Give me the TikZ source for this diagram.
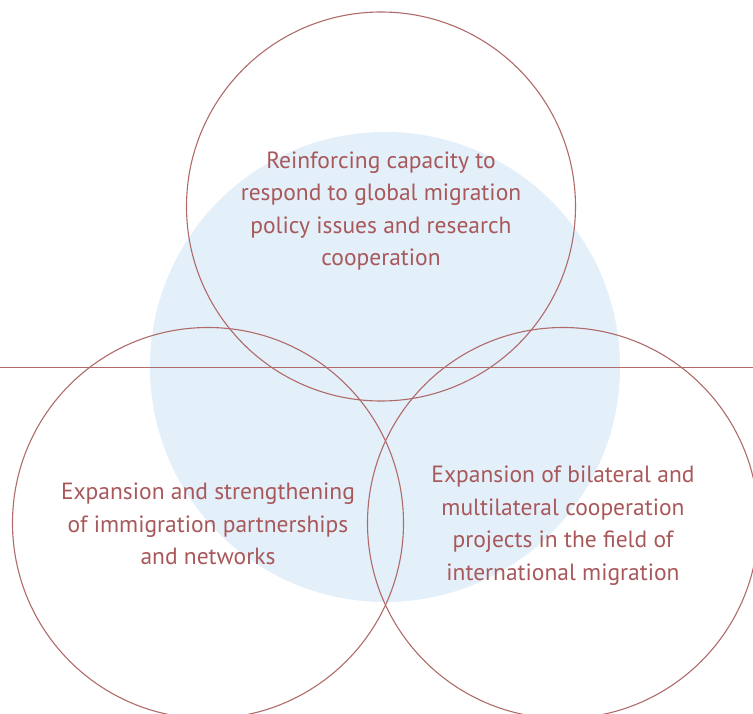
\documentclass[tikz,border=0pt]{standalone}
\usepackage{fontspec}
\setmainfont{PT Sans}
\definecolor{ringred}{RGB}{176,106,106}
\definecolor{textred}{RGB}{168,88,90}
\definecolor{paleblue}{RGB}{227,239,249}
\tikzset{every picture/.style={line width=1.1pt}}
\tikzset{
	ring/.style={draw=ringred},
	goal/.style={text=textred, align=center, font=\fontsize{23.5}{32.5}\selectfont}}

\begin{document}
\begin{tikzpicture}[x=1pt,y=1pt,yscale=-1,xscale=1]
	\useasboundingbox (0,0) rectangle (753,714);
	\clip (0,0) rectangle (753,714);

	%Shape: Circle [background]
	\fill [paleblue] (385,367) circle (235);
	%Straight Lines [axis]
	\draw [ringred] (0,367.5) -- (753,367.5);
	%Shape: Circle [top]
	\draw [ring] (381,206.5) circle (194.5);
	%Shape: Circle [left]
	\draw [ring] (208,523) circle (195.5);
	%Shape: Circle [right]
	\draw [ring] (563,523) circle (195.5);

	% Text Node
	\node [goal] (capacity) at (381,211) {Reinforcing capacity to\\respond to global migration\\policy issues and research\\cooperation};
	% Text Node
	\node [goal] (partners) at (208,524) {Expansion and strengthening\\of immigration partnerships\\and networks};
	% Text Node
	\node [goal] (projects) at (563,525.5) {Expansion of bilateral and\\multilateral cooperation\\projects in the field of\\international migration};

\end{tikzpicture}
\end{document}
